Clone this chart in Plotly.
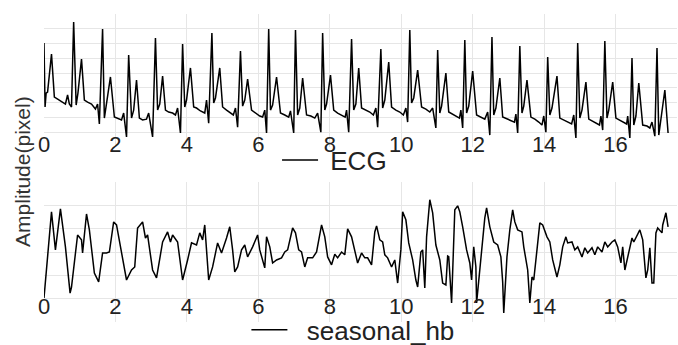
import plotly.graph_objects as go

# ECG trace (time in s, amplitude in grid units)
ecg_t = [0.00,0.03,0.06,0.10,0.21,0.29,0.35,0.43,0.52,0.60,0.66,0.71,0.77,0.83,0.90,0.95,1.05,1.13,1.22,1.33,1.44,1.50,1.55,1.64,1.69,1.75,1.86,1.97,2.06,2.17,2.23,2.31,2.37,2.45,2.51,2.59,2.67,2.76,2.87,2.93,3.04,3.12,3.18,3.24,3.32,3.40,3.49,3.60,3.68,3.74,3.82,3.88,3.94,3.99,4.10,4.19,4.27,4.38,4.50,4.55,4.61,4.70,4.75,4.80,4.92,5.00,5.11,5.22,5.30,5.36,5.42,5.50,5.56,5.62,5.70,5.81,5.92,6.04,6.12,6.18,6.23,6.29,6.34,6.40,6.51,6.62,6.74,6.85,6.90,6.99,7.04,7.10,7.16,7.24,7.35,7.47,7.58,7.66,7.75,7.80,7.86,7.91,8.02,8.11,8.22,8.33,8.43,8.47,8.53,8.61,8.67,8.73,8.81,8.89,9.01,9.12,9.22,9.29,9.34,9.43,9.48,9.54,9.65,9.73,9.85,9.96,10.06,10.13,10.18,10.24,10.29,10.35,10.46,10.57,10.69,10.80,10.88,10.97,11.02,11.08,11.13,11.25,11.33,11.44,11.55,11.63,11.67,11.72,11.78,11.83,11.89,12.00,12.11,12.23,12.34,12.42,12.48,12.54,12.59,12.65,12.76,12.84,12.96,13.07,13.17,13.21,13.26,13.32,13.38,13.43,13.52,13.63,13.74,13.85,13.94,13.99,14.05,14.10,14.16,14.22,14.36,14.44,14.55,14.66,14.77,14.83,14.89,14.94,15.00,15.06,15.17,15.25,15.34,15.45,15.55,15.59,15.64,15.70,15.76,15.81,15.92,16.01,16.12,16.23,16.31,16.34,16.40,16.46,16.51,16.57,16.65,16.76,16.88,16.96,17.02,17.10,17.16,17.21,17.27,17.38,17.47]
ecg_v = [7.04,2.71,3.65,3.72,6.29,3.38,3.30,3.18,3.04,2.91,3.52,2.91,2.71,8.46,2.84,3.65,5.95,3.18,3.04,2.91,2.57,2.91,1.56,7.98,1.96,2.98,4.74,2.03,1.96,1.83,2.30,0.68,6.22,1.96,2.50,4.53,1.96,1.83,1.89,2.30,0.68,7.37,2.50,2.91,4.80,2.50,2.37,2.30,2.17,2.64,0.95,6.97,2.71,3.18,5.35,2.71,2.64,2.44,2.30,3.18,1.62,7.71,2.98,3.32,5.35,2.71,2.50,2.30,2.17,2.64,1.35,6.50,2.77,3.18,4.60,2.50,2.30,2.10,2.03,2.50,0.95,7.98,2.50,2.84,4.74,2.30,2.17,2.03,2.44,0.95,7.92,2.17,2.64,4.67,2.17,2.10,1.96,2.30,1.01,7.71,2.50,2.91,4.87,2.50,2.30,2.17,2.03,2.50,1.01,7.31,2.50,2.91,5.35,2.64,2.50,2.37,2.17,2.64,1.35,6.63,2.64,3.18,5.75,2.71,2.50,2.37,2.17,2.64,1.69,7.92,2.98,3.32,5.21,2.71,2.57,2.37,2.64,1.29,6.56,2.30,2.77,5.01,2.37,2.23,2.10,1.96,2.50,1.29,7.24,2.30,2.77,5.14,2.17,2.03,1.89,2.37,0.81,7.44,2.17,2.64,4.67,2.03,1.89,1.76,1.69,2.23,0.95,6.83,2.30,2.77,4.53,2.03,1.89,1.69,1.49,2.10,1.01,6.09,2.17,2.64,4.80,1.96,1.83,1.69,1.56,2.17,0.61,7.04,1.96,2.50,4.40,1.89,1.76,1.62,1.49,2.10,1.15,7.17,1.96,2.50,4.40,1.96,1.83,1.69,1.56,2.10,0.61,6.02,1.49,2.10,4.33,1.49,1.42,1.29,1.69,0.74,6.70,0.81,1.96,3.86,0.95]

# seasonal_hb trace
hb_t = [0.00,0.21,0.32,0.46,0.60,0.73,0.77,0.94,1.05,1.08,1.19,1.27,1.41,1.53,1.64,1.75,1.83,1.95,2.03,2.17,2.31,2.45,2.54,2.62,2.76,2.84,2.90,3.04,3.15,3.32,3.46,3.54,3.60,3.74,3.88,4.02,4.13,4.27,4.36,4.44,4.50,4.61,4.72,4.86,4.97,5.11,5.20,5.28,5.34,5.42,5.53,5.62,5.70,5.84,5.98,6.04,6.18,6.23,6.32,6.40,6.51,6.65,6.74,6.82,6.96,7.04,7.13,7.21,7.30,7.38,7.52,7.63,7.77,7.86,7.94,8.05,8.14,8.22,8.33,8.42,8.50,8.61,8.70,8.78,8.89,8.98,9.06,9.17,9.26,9.31,9.40,9.48,9.54,9.62,9.73,9.82,9.90,9.99,10.04,10.13,10.21,10.32,10.41,10.46,10.55,10.60,10.66,10.71,10.80,10.88,10.97,11.08,11.16,11.25,11.30,11.33,11.41,11.50,11.58,11.64,11.72,11.83,11.92,11.97,12.03,12.09,12.11,12.20,12.28,12.34,12.39,12.48,12.59,12.70,12.79,12.84,12.87,12.96,13.04,13.12,13.18,13.26,13.38,13.43,13.54,13.60,13.66,13.71,13.80,13.88,13.96,14.08,14.16,14.24,14.36,14.44,14.52,14.61,14.66,14.78,14.86,14.94,15.06,15.14,15.22,15.34,15.42,15.50,15.62,15.70,15.78,15.90,15.98,16.06,16.15,16.20,16.26,16.34,16.46,16.51,16.60,16.68,16.76,16.85,16.90,16.96,17.02,17.07,17.13,17.18,17.30,17.32,17.41,17.47]
hb_v = [1.03,4.72,3.09,4.85,3.22,1.24,1.50,3.73,3.52,2.96,4.63,3.95,2.10,1.72,2.96,2.96,3.00,4.29,4.16,2.96,1.80,2.23,2.36,4.03,4.29,3.60,3.73,2.23,1.89,3.43,3.86,3.43,3.73,3.43,1.80,2.66,3.39,3.30,3.82,3.52,4.16,1.80,2.36,3.39,2.96,3.60,4.08,3.09,2.15,2.36,3.09,3.30,2.79,3.22,3.73,3.09,2.32,3.65,3.22,2.53,2.66,2.75,3.00,3.09,4.03,3.82,3.09,3.00,2.36,2.75,2.75,3.00,4.16,3.65,2.79,2.45,2.90,2.75,3.00,2.88,3.99,3.65,3.09,2.53,2.96,2.75,2.75,2.45,3.86,4.12,3.52,3.43,2.88,2.75,2.36,2.66,1.67,3.09,4.72,4.38,3.39,2.66,1.80,1.50,3.00,3.09,1.46,3.65,5.24,4.68,3.30,2.66,1.67,1.59,2.83,2.80,0.82,4.81,4.98,4.72,4.08,3.09,2.53,1.80,3.22,2.36,0.82,2.36,3.60,4.46,4.89,4.08,3.43,3.30,2.79,1.72,0.39,2.79,3.95,4.81,4.29,3.95,3.86,3.22,2.23,0.82,1.93,1.80,3.09,4.25,4.16,3.65,3.43,2.66,1.93,2.45,3.22,3.65,3.39,3.43,3.09,3.22,2.79,3.18,2.96,3.18,2.88,3.22,3.00,3.43,3.22,3.43,3.52,3.22,2.53,3.22,2.23,2.75,3.60,3.43,3.73,3.95,3.52,1.89,2.23,3.18,1.67,1.67,3.82,4.03,3.82,4.16,4.68,4.08]

x_ticks = [0, 2, 4, 6, 8, 10, 12, 14, 16]

FONT = "Liberation Sans, Arial, sans-serif"
NB = "\u00a0"
fig = go.Figure()
fig.add_trace(go.Scatter(x=ecg_t, y=ecg_v, mode="lines", name=NB + "ECG",
                         line=dict(color="black", width=1.5), xaxis="x", yaxis="y", legend="legend"))
fig.add_trace(go.Scatter(x=hb_t, y=hb_v, mode="lines", name=NB + NB + "seasonal_hb",
                         line=dict(color="black", width=1.5), xaxis="x2", yaxis="y2", legend="legend2"))

axis_common = dict(showgrid=True, gridcolor="#e6e6e6", gridwidth=1, zeroline=False,
                   showline=False, ticks="", range=[0, 17.72], tickvals=x_ticks,
                   tickfont=dict(size=22, color="#222", family=FONT))
fig.update_layout(
    width=678, height=345,
    margin=dict(l=44, r=1, t=14, b=23, autoexpand=False),
    plot_bgcolor="white", paper_bgcolor="white",
    font=dict(family=FONT, color="#222"),
    showlegend=True,
    xaxis=dict(**axis_common, domain=[0, 1], anchor="y", ticklabelstandoff=-18),
    yaxis=dict(domain=[0.568, 1], range=[0, 9], dtick=1, showticklabels=False,
               showgrid=True, gridcolor="#e6e6e6", zeroline=False, ticks=""),
    xaxis2=dict(**axis_common, domain=[0, 1], anchor="y2", ticklabelstandoff=-31),
    yaxis2=dict(domain=[0, 0.4545], range=[0, 6], dtick=1, showticklabels=False,
                showgrid=True, gridcolor="#e6e6e6", zeroline=False, ticks=""),
    legend=dict(orientation="h", x=0.459, xanchor="center", y=0.526, yanchor="middle",
                itemwidth=36, font=dict(size=26, color="#222"), bgcolor="rgba(0,0,0,0)"),
    legend2=dict(orientation="h", x=0.488, xanchor="center", y=-0.0255, yanchor="middle",
                 itemwidth=36, font=dict(size=26, color="#222"), bgcolor="rgba(0,0,0,0)"),
    annotations=[dict(text="Amplitude(pixel)", x=-0.035, y=0.49, xref="paper", yref="paper",
                      textangle=-90, showarrow=False, font=dict(size=21, color="#333"),
                      xanchor="center", yanchor="middle")],
)
fig.write_html("out.html")
